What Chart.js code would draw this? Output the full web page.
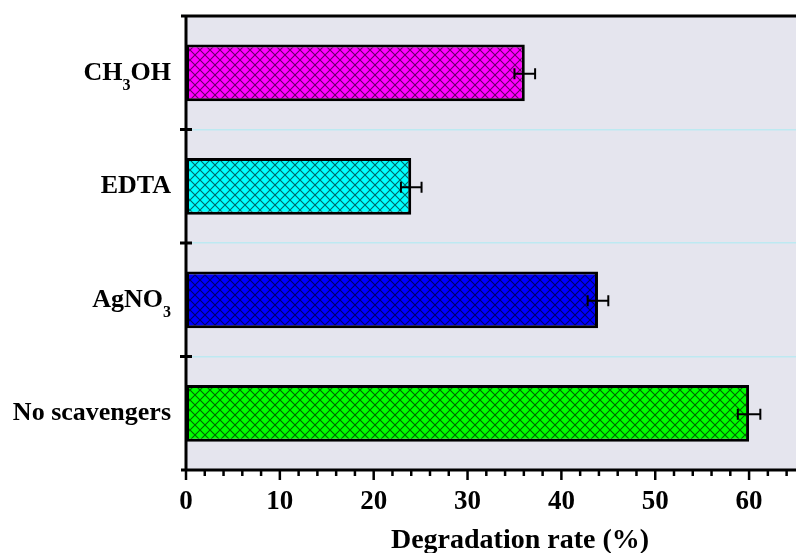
<!DOCTYPE html>
<html>
<head>
<meta charset="utf-8">
<script src="https://cdn.jsdelivr.net/npm/chart.js@4.4.1/dist/chart.umd.min.js"></script>
<style>
  body { margin: 0; background: #fff; }
  #wrap { width: 796px; height: 553px; }
</style>
</head>
<body>
<div id="wrap"><canvas id="rate" width="796" height="553"></canvas></div>
<script>
// scavenger experiment, top to bottom
var categories = ['CH3OH', 'EDTA', 'AgNO3', 'No scavengers'];
var rates = [36.1, 24.0, 43.9, 60.0];
var errors = [1.1, 1.1, 1.1, 1.2];
var barColors = ['#ff00ff', '#00ffff', '#0000ff', '#00ff00'];
var xTitle = 'Degradation rate (%)';

var serif = '"Liberation Serif", "Times New Roman", serif';

// cross hatched fill
function hatch(color) {
    var n = 10;
    var c = document.createElement('canvas');
    c.width = n; c.height = n;
    var g = c.getContext('2d');
    g.fillStyle = color;
    g.fillRect(0, 0, n, n);
    g.strokeStyle = 'rgba(0,0,0,0.6)';
    g.lineWidth = 1.1;
    g.beginPath();
    g.moveTo(-1, -1); g.lineTo(n + 1, n + 1);
    g.moveTo(-1, n + 1); g.lineTo(n + 1, -1);
    g.stroke();
    return g.createPattern(c, 'repeat');
}

// labels like AgNO3 get their digits as subscripts
function drawFormula(ctx, text, xRight, y) {
    var main = 'bold 26px ' + serif;
    var sub = 'bold 16px ' + serif;
    var parts = text.split(/(\d+)/).filter(function(p){ return p.length; });
    var total = 0;
    parts.forEach(function(p){
        ctx.font = /^\d+$/.test(p) ? sub : main;
        total += ctx.measureText(p).width;
    });
    var x = xRight - total;
    parts.forEach(function(p){
        var isSub = /^\d+$/.test(p);
        ctx.font = isSub ? sub : main;
        ctx.fillText(p, x, isSub ? y + 10 : y);
        x += ctx.measureText(p).width;
    });
}

var plotBg = {
    id: 'plotBg',
    beforeDraw: function(chart) {
        var a = chart.chartArea, ctx = chart.ctx;
        ctx.save();
        ctx.fillStyle = '#e5e5ee';
        ctx.fillRect(a.left, a.top, a.right - a.left, a.bottom - a.top);
        ctx.restore();
    }
};

var extras = {
    id: 'extras',
    afterDraw: function(chart) {
        var ctx = chart.ctx, a = chart.chartArea;
        var xs = chart.scales.x, ys = chart.scales.y;
        ctx.save();
        ctx.strokeStyle = '#000';
        ctx.fillStyle = '#000';

        // error bars
        ctx.lineWidth = 2;
        chart.getDatasetMeta(0).data.forEach(function(bar, i){
            var x1 = xs.getPixelForValue(rates[i] - errors[i]);
            var x2 = xs.getPixelForValue(rates[i] + errors[i]);
            var y = bar.y + 1;
            ctx.beginPath();
            ctx.moveTo(x1, y); ctx.lineTo(x2, y);
            ctx.moveTo(x1, y - 5.5); ctx.lineTo(x1, y + 5.5);
            ctx.moveTo(x2, y - 5.5); ctx.lineTo(x2, y + 5.5);
            ctx.stroke();
        });

        // frame
        ctx.lineWidth = 3;
        ctx.beginPath();
        ctx.moveTo(a.left - 5, a.top); ctx.lineTo(a.right, a.top);
        ctx.moveTo(a.left - 5, a.bottom); ctx.lineTo(a.right, a.bottom);
        ctx.moveTo(a.left, a.top); ctx.lineTo(a.left, a.bottom);
        ctx.stroke();

        // y ticks between categories
        for (var i = 0; i < categories.length - 1; i++) {
            var yb = (ys.getPixelForValue(i) + ys.getPixelForValue(i + 1)) / 2;
            ctx.beginPath();
            ctx.moveTo(a.left - 6, yb); ctx.lineTo(a.left + 6, yb);
            ctx.stroke();
        }

        // x ticks, major every 10, minor every 2
        ctx.lineWidth = 2.5;
        xs.ticks.forEach(function(t){
            var px = xs.getPixelForValue(t.value);
            var len = t.value % 10 === 0 ? 10 : 6;
            ctx.beginPath();
            ctx.moveTo(px, a.bottom); ctx.lineTo(px, a.bottom + len);
            ctx.stroke();
        });

        // category labels
        ctx.textAlign = 'left';
        ctx.textBaseline = 'alphabetic';
        categories.forEach(function(c, i){
            drawFormula(ctx, c, 171, ys.getPixelForValue(i) + 7);
        });

        // axis title
        ctx.font = 'bold 28px ' + serif;
        ctx.textAlign = 'center';
        ctx.fillText(xTitle, 520, 548);
        ctx.restore();
    }
};

var ctxRate = document.getElementById('rate');

var dataRate = {
    labels: categories,
    datasets: [{
        label: 'Degradation rate',
        data: rates,
        backgroundColor: barColors.map(hatch),
        borderColor: '#000',
        borderWidth: 3,
        borderSkipped: false,
        barPercentage: 0.5,
        categoryPercentage: 1
    }]
};

var optionsRate = {
    responsive: false,
    devicePixelRatio: 1,
    animation: false,
    indexAxis: 'y',
    layout: { padding: { top: 16, right: 0, left: 0, bottom: 0 } },
    plugins: {
        legend: { display: false },
        tooltip: { enabled: false }
    },
    scales: {
        x: {
            min: 0,
            max: 65,
            border: { display: false },
            grid: { display: false, drawTicks: false },
            ticks: {
                stepSize: 2,
                includeBounds: false,
                autoSkip: false,
                maxRotation: 0,
                padding: 16,
                color: '#000',
                font: { family: serif, size: 27, weight: 'bold' },
                callback: function(v){ return v % 10 === 0 ? v : ''; }
            },
            afterFit: function(s){
                s.height = 83;
                s.paddingLeft = 0;
                s.paddingRight = 0;
            }
        },
        y: {
            offset: true,
            border: { display: false },
            grid: { offset: true, color: '#bde9f1', lineWidth: 1.5, drawTicks: false },
            ticks: { display: false },
            afterFit: function(s){ s.width = 186; }
        }
    }
};

var rateChart = new Chart(ctxRate, {
    type: 'bar',
    data: dataRate,
    options: optionsRate,
    plugins: [plotBg, extras]
});
</script>
</body>
</html>
